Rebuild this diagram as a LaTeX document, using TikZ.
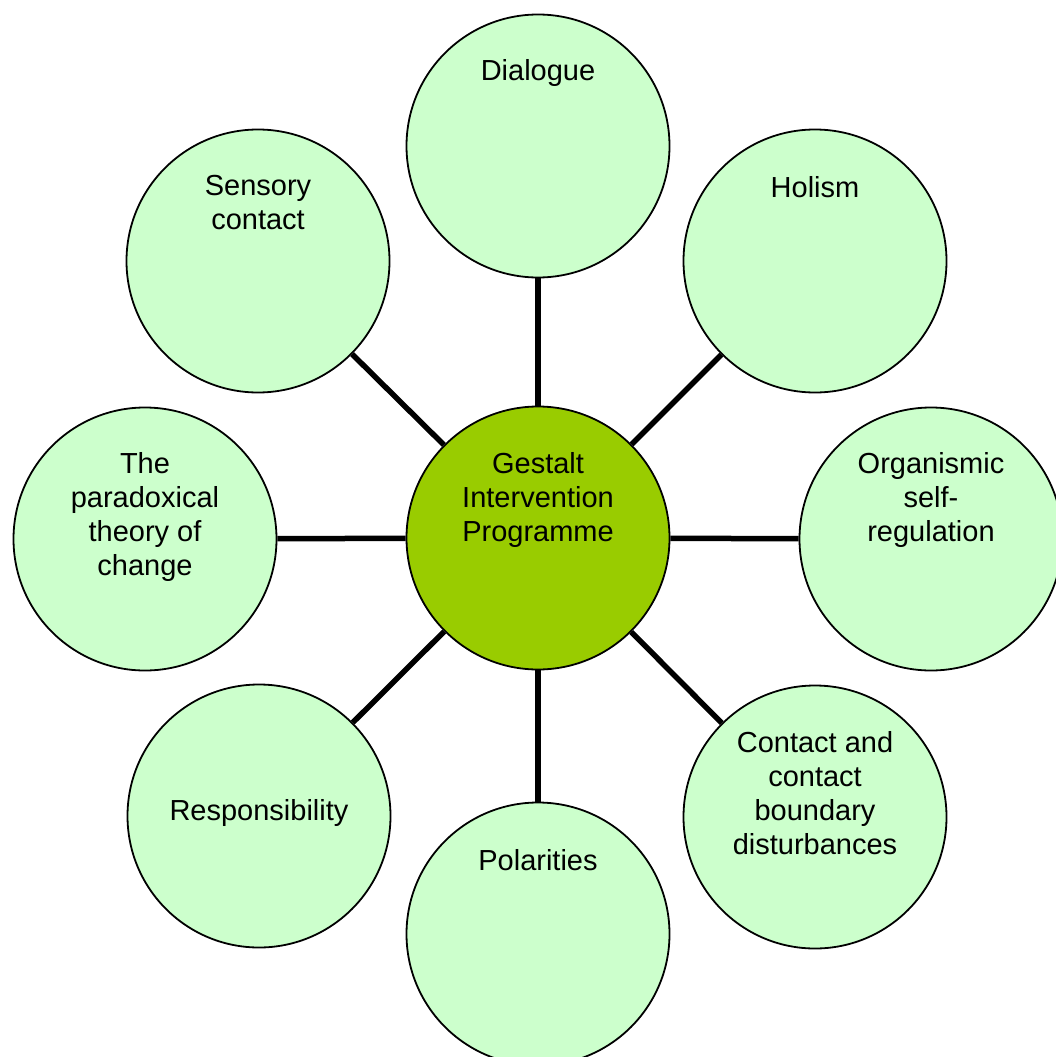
\documentclass[tikz,border=0pt]{standalone}
\usepackage{fontspec}
\setmainfont{Liberation Sans}
\usetikzlibrary{backgrounds}
\definecolor{lgreen}{HTML}{CCFFCC}
\definecolor{dgreen}{HTML}{99CC00}
\newcommand\mlines[1]{\vtop{\baselineskip=34pt\lineskiplimit=-100pt\halign{\hfil##\hfil\cr#1\cr}}}
\begin{document}
\begin{tikzpicture}[x=1pt,y=-1pt,
  bub/.style={circle,draw=black,line width=1.8pt,inner sep=0pt,minimum size=263pt,fill=lgreen},
  hub/.style={bub,fill=dgreen},
  lbl/.style={anchor=base,inner sep=0pt,font=\fontsize{29pt}{34pt}\selectfont},
  spoke/.style={line width=5.5pt,draw=black}]
\useasboundingbox (0,0) rectangle (1055,1057);
\node[hub] (c) at (538,538) {};
\node[bub] (dia) at (538,146) {};
\node[bub] (hol) at (815,261) {};
\node[bub] (org) at (931,539) {};
\node[bub] (con) at (815,817) {};
\node[bub] (pol) at (538,934) {};
\node[bub] (res) at (259,816) {};
\node[bub] (par) at (145,539) {};
\node[bub] (sen) at (258,261) {};
\begin{scope}[on background layer]
\foreach \n in {dia,hol,org,con,pol,res,par,sen}
  \draw[spoke] (c) -- (\n);
\end{scope}
\node[lbl] (tc) at ([yshift=65pt]c.center) {\mlines{Gestalt\cr Intervention\cr Programme}};
\node[lbl] (tdia) at ([yshift=65pt]dia.center) {\mlines{Dialogue}};
\node[lbl] (thol) at ([yshift=64pt]hol.center) {\mlines{Holism}};
\node[lbl] (torg) at ([yshift=66pt]org.center) {\mlines{Organismic\cr self-\cr regulation}};
\node[lbl] (tcon) at ([yshift=65pt]con.center) {\mlines{Contact and\cr contact\cr boundary\cr disturbances}};
\node[lbl] (tpol) at ([yshift=64pt]pol.center) {\mlines{Polarities}};
\node[lbl] (tres) at ([yshift=-4pt]res.center) {\mlines{Responsibility}};
\node[lbl] (tpar) at ([yshift=66pt]par.center) {\mlines{The\cr paradoxical\cr theory of\cr change}};
\node[lbl] (tsen) at ([yshift=66pt]sen.center) {\mlines{Sensory\cr contact}};
\end{tikzpicture}
\end{document}
